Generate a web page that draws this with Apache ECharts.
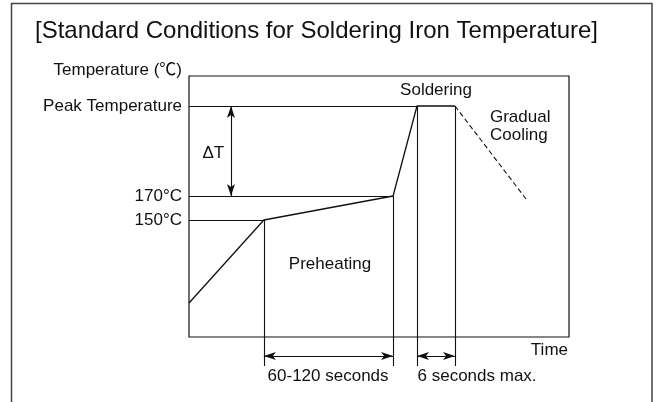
<!DOCTYPE html>
<html>
<head>
<meta charset="utf-8">
<script src="https://cdn.jsdelivr.net/npm/echarts@6/dist/echarts.min.js"></script>
<style>
  html, body { margin: 0; padding: 0; background: #fff; }
  #chart { width: 660px; height: 402px; }
</style>
</head>
<body>
<div id="chart"></div>
<script>
// Soldering profile: time in schematic units (0-100), temperature in °C
const profileTime = [0, 19.7, 53.7, 60, 70];
const profileTemp = [80.8, 150, 170, 245, 245];

// Gradual cooling after the soldering window
const coolingTime = [70, 88.7];
const coolingTemp = [245, 167.5];

// Temperature axis ticks
const tempTicks = [150, 170, 245];
const tempTickLabels = ['150°C', '170°C', 'Peak Temperature'];

// Temperature range of the plot frame, and of the drawing area below it
const frameMin = 52.5;
const tempMax = 270;
const drawMin = 20;

// Dimension lines below the frame
const extLineBottom = 28.3;   // where the vertical extension lines end
const dimLevel = 36.7;        // level of the time dimension arrows
const deltaTTime = 11.05;     // position of the ΔT arrow

// Text annotations: [time, temperature, text, align]
const notes = [
  [65, 258.3, 'Soldering', 'center'],
  [79.2, 228.3, 'Gradual\nCooling', 'left'],
  [37.1, 113.3, 'Preheating', 'center'],
  [6.4, 205.8, 'ΔT', 'center'],
  [36.6, 20, '60-120 seconds', 'center'],
  [75.8, 20, '6 seconds max.', 'center']
];

const FONT = "'Liberation Sans', Arial, 'Noto Sans CJK JP', sans-serif";
const INK = '#111';

// Pixel geometry of the frame
const GL = 189, GT = 76, GW = 380, GH = 261;
const pxPerDeg = GH / (tempMax - frameMin);
const drawH = (tempMax - drawMin) * pxPerDeg;

const pt = (i) => [profileTime[i], profileTemp[i]];
const seg = (a, b, extra) => [Object.assign({ coord: a }, extra || {}), Object.assign({ coord: b }, extra || {})];
const arrowEnds = { symbol: 'arrow' };

// Guide lines: horizontals from the axis to each knot, verticals down below the frame
const guideLines = [
  seg([0, profileTemp[1]], pt(1)),
  seg([0, profileTemp[2]], pt(2)),
  seg([0, profileTemp[3]], pt(3)),
  seg(pt(1), [profileTime[1], extLineBottom]),
  seg(pt(2), [profileTime[2], extLineBottom]),
  seg(pt(3), [profileTime[3], extLineBottom]),
  seg(pt(4), [profileTime[4], extLineBottom]),
  seg([deltaTTime, profileTemp[3]], [deltaTTime, profileTemp[2]], arrowEnds),
  seg([profileTime[1], dimLevel], [profileTime[2], dimLevel], arrowEnds),
  seg([profileTime[3], dimLevel], [profileTime[4], dimLevel], arrowEnds)
];

const hiddenAxis = {
  axisLine: { show: false }, axisTick: { show: false },
  axisLabel: { show: false }, splitLine: { show: false }
};

const chart = echarts.init(document.getElementById('chart'), null, { renderer: 'canvas' });

chart.setOption({
  backgroundColor: '#fff',
  animation: false,
  textStyle: { fontFamily: FONT, color: INK },
  title: {
    text: '[Standard Conditions for Soldering Iron Temperature]',
    left: 35,
    top: 19,
    padding: 0,
    textStyle: { fontFamily: FONT, fontSize: 24, fontWeight: 'normal', color: INK }
  },
  graphic: [{
    type: 'rect',
    shape: { x: 11.5, y: 3.5, width: 640.5, height: 420 },
    style: { fill: 'none', stroke: '#444', lineWidth: 1.5 },
    silent: true
  }],
  grid: [
    // drawing area: same scale as the frame, extended below it for dimension lines
    { left: GL, top: GT, width: GW, height: drawH, show: false },
    // plot frame
    { left: GL, top: GT, width: GW, height: GH, show: true, borderColor: INK, borderWidth: 1.2, backgroundColor: 'transparent' }
  ],
  xAxis: [
    Object.assign({ type: 'value', min: 0, max: 100, gridIndex: 0 }, hiddenAxis),
    Object.assign({ type: 'value', min: 0, max: 100, gridIndex: 1 }, hiddenAxis, {
      name: 'Time',
      nameLocation: 'end',
      nameGap: -1,
      nameTextStyle: { fontFamily: FONT, fontSize: 17, color: INK, align: 'right', verticalAlign: 'top', padding: [5, 0, 0, 0] }
    })
  ],
  yAxis: [
    Object.assign({ type: 'value', min: drawMin, max: tempMax, gridIndex: 0 }, hiddenAxis, {
      axisLabel: {
        show: true,
        customValues: tempTicks,
        margin: 7,
        fontFamily: FONT, fontSize: 17, color: INK,
        formatter: (v) => tempTickLabels[tempTicks.indexOf(v)]
      }
    }),
    Object.assign({ type: 'value', min: frameMin, max: tempMax, gridIndex: 1 }, hiddenAxis, {
      name: 'Temperature (℃)',
      nameLocation: 'end',
      nameGap: 6,
      nameTextStyle: { fontFamily: FONT, fontSize: 17, color: INK, align: 'right', verticalAlign: 'middle', padding: [0, 7, 0, 0] }
    })
  ],
  series: [
    {
      name: 'Profile',
      type: 'line',
      xAxisIndex: 0, yAxisIndex: 0,
      data: profileTime.map((t, i) => [t, profileTemp[i]]),
      showSymbol: false, symbol: 'none',
      clip: false,
      lineStyle: { color: INK, width: 1.3 },
      markLine: {
        silent: true,
        symbol: 'none',
        symbolSize: [6, 12],
        label: { show: false },
        lineStyle: { color: INK, width: 1.1, type: 'solid' },
        emphasis: { disabled: true },
        data: guideLines
      }
    },
    {
      name: 'Cooling',
      type: 'line',
      xAxisIndex: 0, yAxisIndex: 0,
      data: coolingTime.map((t, i) => [t, coolingTemp[i]]),
      showSymbol: false, symbol: 'none',
      clip: false,
      lineStyle: { color: INK, width: 1.1, type: [5, 3] }
    },
    {
      name: 'Notes',
      type: 'scatter',
      xAxisIndex: 0, yAxisIndex: 0,
      data: notes.map(n => ({ value: [n[0], n[1]], label: { align: n[3] }, text: n[2] })),
      symbolSize: 0,
      itemStyle: { color: '#fff', opacity: 1 },
      clip: false,
      silent: true,
      label: {
        show: true,
        position: 'inside',
        fontFamily: FONT, fontSize: 17, color: INK, lineHeight: 18,
        textBorderWidth: 0,
        formatter: (p) => p.data.text
      }
    }
  ]
});
</script>
</body>
</html>
